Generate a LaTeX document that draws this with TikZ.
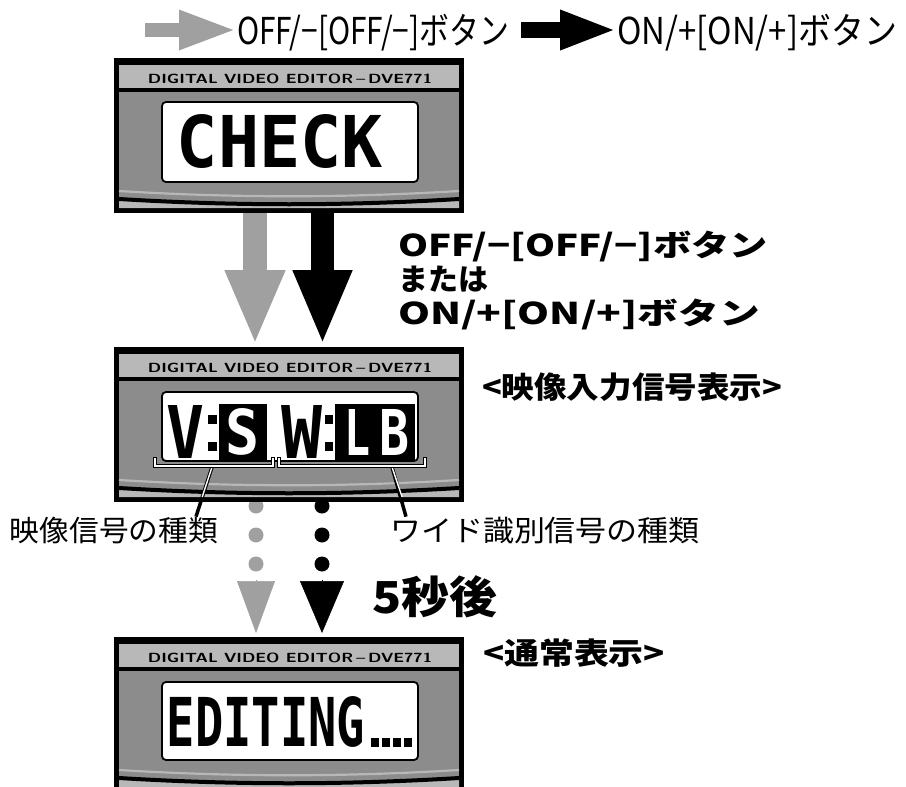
\documentclass[tikz,border=0pt]{standalone}
\usepackage{fontspec}
\usepackage{graphicx}
\usetikzlibrary{arrows.meta,calc}
\newfontfamily\jp{Noto Sans CJK JP}
\newfontfamily\lcd{DejaVu Sans Mono}
\definecolor{hdr}{HTML}{B8B8B8}
\definecolor{bodyg}{HTML}{8C8C8C}
\definecolor{arrg}{HTML}{A0A0A0}
\newcommand\wfit[2]{\resizebox{#1}{\height}{#2}}
\newcommand\panelbg[1]{%
\begin{scope}[shift={(#1.north west)}]
 \fill[black] (0,0) rectangle (350,155);
 \fill[hdr] (5,7) rectangle (345,30);
 \fill[bodyg] (5,34) rectangle (345,150);
 \fill[hdr] (5,141) .. controls (120,148) and (230,148) .. (345,141) -- (345,150) -- (5,150) -- cycle;
 \draw[hdr, line width=2.2pt] (5,133) .. controls (120,140) and (230,140) .. (345,133);
 \draw[black, line width=4pt] (5,141) .. controls (120,148) and (230,148) .. (345,141);
 \node[hdrtext] (#1hd) at (176,20.5) {\resizebox{284pt}{9.5pt}{\sffamily\bfseries DIGITAL VIDEO EDITOR\,--\,DVE771}};
\end{scope}}
\begin{document}
\begin{tikzpicture}[x=1pt,y=-1pt,
  every node/.style={inner sep=0pt, outer sep=0pt},
  panelnode/.style={minimum width=350pt, minimum height=155pt},
  hdrtext/.style={},
  lcdbox/.style={fill=white, draw=black, line width=1.8pt, rounded corners=4pt},
  legtext/.style={font=\jp\fontsize{37}{37}\selectfont, anchor=base west},
  boldtext/.style={font=\jp\bfseries\fontsize{30}{30}\selectfont, anchor=base west},
  labtext/.style={font=\jp\fontsize{29}{29}\selectfont, anchor=base west},
  grayarrow/.style={arrg, line width=24pt, -{Triangle[width=55pt,length=75pt]}},
  blackarrow/.style={black, line width=23pt, -{Triangle[width=54pt,length=75pt]}},
  graydots/.style={arrg, line width=15pt, line cap=round, dash pattern=on 0pt off 29pt},
  blackdots/.style={black, line width=15pt, line cap=round, dash pattern=on 0pt off 29pt},
  leader/.style={black, line width=3.5pt},
  leaderin/.style={white, line width=1.4pt},
  bracket/.style={black, line width=4.5pt, line join=miter},
  bracketin/.style={white, line width=1.8pt, line join=miter}
]
\useasboundingbox (0,0) rectangle (906,787);
\clip (0,0) rectangle (906,787);

% legend
\node[legtext] (lg1) at (237,44) {\wfit{272pt}{OFF/−[OFF/−]ボタン}};
\node[legtext] (lg2) at (617,44) {\wfit{280pt}{ON/+[ON/+]ボタン}};
\coordinate (lga) at (145,30);
\coordinate (lgb) at (521,30);
\draw[arrg, line width=14pt, -{Triangle[width=36pt,length=58pt]}] (lga) -- (lg1.west |- lga);
\draw[black, line width=16pt, -{Triangle[width=36pt,length=57pt]}] (lgb) -- (lg2.west |- lgb);

% panel nodes
\node[panelnode] (p1) at (289,135.5) {};
\node[panelnode] (p2) at (289,424.5) {};
\node[panelnode] (p3) at (289,714.5) {};

% dots between panel 2 and 3 (drawn first, partly under panel 2)
\coordinate (gd1) at (256,506);
\coordinate (gd2) at (256,570);
\coordinate (kd1) at (322,506);
\coordinate (kd2) at (322,570);
\draw[graydots] (gd1) -- (gd2);
\draw[blackdots] (kd1) -- (kd2);
\coordinate (gh) at (256,580);
\coordinate (kh) at (322,580);
\draw[arrg, line width=0.5pt, -{Triangle[width=38pt,length=52pt]}] (gh) -- ([xshift=-33pt,yshift=4pt]p3.north);
\draw[black, line width=0.5pt, -{Triangle[width=44pt,length=52pt]}] (kh) -- ([xshift=33pt,yshift=4pt]p3.north);

% panels
\panelbg{p1}
\panelbg{p2}
\panelbg{p3}

% panel 1 display
\draw[lcdbox] (162,102) rectangle (418,182);
\node (t1) at (280,141.5) {\resizebox{206pt}{53pt}{\lcd\bfseries CHECK}};

% panel 2 display
\draw[lcdbox] (162,392) rectangle (418,461);
\node (tv) at (186,431.5) {\resizebox{38pt}{53pt}{\lcd\bfseries V}};
\fill (208,415) rectangle (217,424);
\fill (208,442) rectangle (217,451);
\fill (219,404) rectangle (267,460);
\node[text=white] (ts) at (243,432) {\resizebox{34pt}{46pt}{\lcd\bfseries S}};
\node (tw) at (302.5,431.5) {\resizebox{41pt}{53pt}{\lcd\bfseries W}};
\fill (325,415) rectangle (333,424);
\fill (325,442) rectangle (333,451);
\fill (335,404) rectangle (415,460);
\node[text=white] (tl) at (357,432) {\resizebox{26pt}{46pt}{\lcd\bfseries L}};
\node[text=white] (tb) at (394,432) {\resizebox{30pt}{46pt}{\lcd\bfseries B}};

% panel 3 display
\draw[lcdbox] (162,682) rectangle (418,760);
\node (te) at (266,722) {\resizebox{198pt}{50pt}{\lcd\bfseries EDITING}};
\fill (371,738) rectangle (379,747);
\fill (382,738) rectangle (390,747);
\fill (393,738) rectangle (401,747);
\fill (404,738) rectangle (412,747);

% arrows panel 1 -> panel 2
\draw[grayarrow] ([xshift=-34pt]p1.south) -- ([xshift=-34pt,yshift=2pt]p2.north);
\draw[blackarrow] ([xshift=33.5pt]p1.south) -- ([xshift=33.5pt,yshift=2pt]p2.north);

% labels
\node[boldtext] (b1) at (398,256) {\wfit{370pt}{OFF/−[OFF/−]ボタン}};
\node[boldtext] (b2) at (398,290) {または};
\node[boldtext] (b3) at (398,324) {\wfit{362pt}{ON/+[ON/+]ボタン}};
\node[boldtext] (m1) at (482,398) {\wfit{300pt}{<映像入力信号表示>}};
\node[boldtext] (m2) at (483,664) {\wfit{182pt}{<通常表示>}};
\node[font=\jp\bfseries\fontsize{44}{44}\selectfont, anchor=base west] (sec) at (372,613) {\wfit{125pt}{5秒後}};
\node[labtext] (la) at (10,541) {\wfit{208pt}{映像信号の種類}};
\node[labtext] (lb) at (390,541) {\wfit{310pt}{ワイド識別信号の種類}};

% leaders and brackets
\coordinate (ls) at (212,467);
\coordinate (rs) at (392,467);
\draw[leader] (ls) -- (la.north -| 196,0);
\draw[leader] (rs) -- (lb.north -| 406,0);
\draw[leaderin] (ls) -- (202.2,497);
\draw[leaderin] (rs) -- (402.1,497);
\draw[bracket] (155,457) -- (155,466) -- (273,466) -- (273,457);
\draw[bracket] (279,457) -- (279,466) -- (425,466) -- (425,457);
\draw[bracketin] (155,458) -- (155,466) -- (273,466) -- (273,458);
\draw[bracketin] (279,458) -- (279,466) -- (425,466) -- (425,458);
\end{tikzpicture}
\end{document}
